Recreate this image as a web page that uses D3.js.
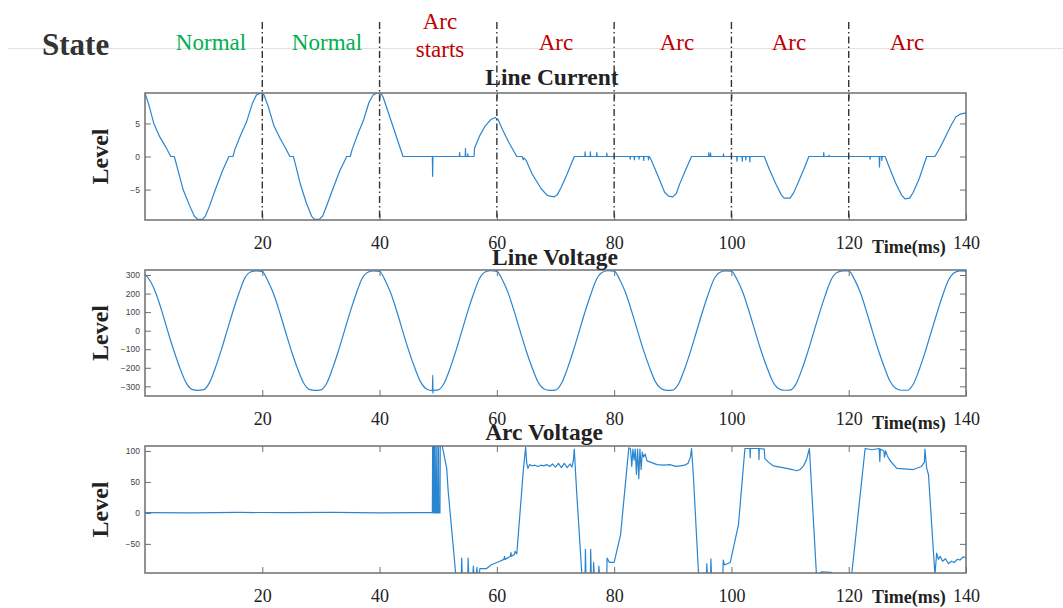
<!DOCTYPE html>
<html>
<head>
<meta charset="utf-8">
<script src="https://cdn.jsdelivr.net/npm/d3@7/dist/d3.min.js"></script>
<style>
  html, body { margin: 0; padding: 0; background: #fff; }
  svg { display: block; }
</style>
</head>
<body>
<svg id="chart" width="1063" height="608"></svg>
<script>
// ---------------- DATA ----------------
const stateLabels = [
  { text: ["Normal"], kind: "normal" },
  { text: ["Normal"], kind: "normal" },
  { text: ["Arc", "starts"], kind: "arc" },
  { text: ["Arc"], kind: "arc" },
  { text: ["Arc"], kind: "arc" },
  { text: ["Arc"], kind: "arc" },
  { text: ["Arc"], kind: "arc" }
];
const boundaryTimes = [20, 40, 60, 80, 100, 120];
const xTickValues = [20, 40, 60, 80, 100, 120, 140];
const currentTicks = [-5, 0, 5];
const voltageTicks = [-300, -200, -100, 0, 100, 200, 300];
const arcTicks = [-50, 0, 50, 100];

// Line current [time ms, level]
const lineCurrent = [
  [0,9.6],[0.6,8.0],[1.5,5.0],[2.5,3.0],[3.5,1.5],[4.4,0],[5.0,0],[5.3,-1.0],[6.5,-5.0],[7.5,-7.2],[8.4,-9.0],[9.0,-9.5],[9.8,-9.5],[10.3,-9.0],[11.0,-7.5],[12.0,-5.0],[13.2,-2.2],[14.3,0],[15.0,0],[15.3,1.0],[16.3,3.2],[17.3,5.2],[18.3,8.0],[19.0,9.3],[19.8,9.6],[20.3,9.3],
  [21.0,7.6],[22.0,4.6],[23.0,2.8],[24.0,1.2],[24.7,0],[25.3,0],[25.6,-1.0],[26.5,-4.2],[27.5,-7.0],[28.4,-9.0],[28.9,-9.5],[29.7,-9.5],[30.3,-9.0],[31.0,-7.4],[32.0,-5.0],[33.2,-2.2],[34.4,0],[35.0,0],[35.3,1.0],[36.3,3.4],[37.3,5.6],[38.2,8.2],[38.9,9.3],[39.6,9.6],[40.2,9.6],
  [40.6,9.0],[44.0,0],[49.0,0],[49.05,-3.0],[49.1,0],[53.6,0],[53.65,0.6],[53.7,0],[54.6,0],[54.65,1.2],[54.7,0],[55.0,0],[55.05,0.4],[55.1,0],[56.1,0],[56.2,1.3],[57.0,3.0],[58.0,4.6],[59.0,5.6],[59.7,5.9],[60.2,5.6],[61.0,4.0],[62.0,2.2],[63.4,0],[64.3,0],[64.5,-0.5],[64.6,-0.2],[65.0,-0.6],[66.0,-2.6],[67.5,-4.8],[68.5,-5.8],[69.0,-6.0],[69.8,-6.1],[70.3,-5.8],[71.0,-4.6],[72.0,-2.6],[73.2,0],
  [75.0,0],[75.05,0.7],[75.1,0],[75.9,0],[75.95,0.7],[76.0,0],[77.0,0],[77.05,0.6],[77.1,0],[78.7,0],[78.75,0.5],[78.8,0],[82.7,0],[82.75,-0.4],[82.8,0],[83.4,0],[83.45,-0.5],[83.5,0],[84.2,0],[84.25,-0.4],[84.3,0],[85.0,0],[85.05,-0.6],[85.1,0],[85.8,0],[85.85,-0.5],[85.9,0],[86.0,0],[86.3,-0.5],[87.5,-3.0],[88.6,-5.4],[89.3,-6.0],[90.0,-6.1],[90.6,-5.6],[91.2,-4.1],[92.2,-2.0],[93.2,0],
  [96.1,0],[96.15,0.6],[96.2,0],[96.4,0],[96.45,0.5],[96.5,0],[98.6,0],[98.65,0.4],[98.7,0],[100.9,0],[100.95,-0.7],[101.0,0],[101.8,0],[101.85,-0.7],[101.9,0],[102.4,0],[102.45,-0.5],[102.5,0],[103.1,0],[103.15,-0.8],[103.2,0],[105.6,0],[106.5,-2.0],[107.6,-4.2],[108.5,-5.8],[109.0,-6.3],[110.0,-6.3],[110.6,-5.5],[111.5,-3.7],[112.4,-1.8],[113.2,0],
  [115.7,0],[115.75,0.6],[115.8,0],[116.6,0],[116.65,0.2],[116.7,0],[123.6,0],[123.65,-0.4],[123.7,0],[125.2,0],[125.25,-1.6],[125.3,0],[125.6,0],[125.65,-0.6],[125.7,0],[126.2,0],[127.0,-1.8],[128.0,-4.0],[129.0,-5.8],[129.6,-6.4],[130.4,-6.3],[131.0,-5.4],[132.0,-3.4],[133.3,0],[134.7,0],[135.5,1.2],[136.5,3.0],[137.5,4.8],[138.3,6.0],[139.0,6.4],[140,6.6]
];

// Line voltage, one value per ms from 0 to 140
const voltageValues = [
  305,262,190,92,-15,-115,-205,-280,-316,-322,-318,-280,-200,-105,0,105,200,282,316,322,
  318,265,192,95,-10,-112,-203,-279,-316,-322,-319,-282,-202,-107,-2,103,198,280,315,322,
  319,268,195,98,-8,-110,-200,-276,-314,-323,-319,-283,-205,-110,-5,100,196,279,316,323,
  320,270,197,100,-5,-108,-198,-275,-313,-322,-320,-285,-207,-112,-8,98,194,277,315,323,
  321,272,200,103,-2,-105,-195,-273,-312,-322,-320,-286,-208,-114,-10,95,192,276,314,322,
  321,273,202,105,0,-103,-193,-271,-311,-321,-320,-288,-210,-116,-12,93,190,274,313,322,
  322,275,204,107,2,-100,-190,-270,-310,-321,-321,-289,-212,-118,-14,90,188,272,312,322,
  321
];
// Short spike on the line voltage at arc start [time ms, level]
const voltageGlitches = [
  [49.07,-240],[49.1,-338],[49.13,-322]
];

// Arc voltage [time ms, level]
const arcVoltage = [
  [0,0.5],[8,0.2],[16,0.8],[24,0.3],[32,0.7],[40,0.2],[46,0.6],[49.0,0.5],
  [49.05,112],[49.12,112],[49.17,0],[49.25,0],[49.3,112],[49.4,112],[49.45,0],[49.6,0],[49.65,112],[49.75,0],[49.9,0],[49.95,112],[50.05,112],[50.1,0],[50.3,0],[50.35,112],[50.6,112],
  [51.45,72],[51.7,35],[53.0,-100],[53.95,-100],[54.0,-73],[54.1,-100],[55.05,-100],[55.1,-73],[55.2,-100],[55.9,-100],[56.0,-86],[56.1,-100],[56.5,-100],[56.6,-88],[56.7,-100],[57.0,-100],[57.1,-90],[58.2,-90],[59.0,-84],[60.5,-78],[61.2,-75],[61.3,-70],[61.4,-75],[62.3,-70],[62.4,-64],[62.5,-70],[63.0,-67],[63.1,-62],[63.4,-66],
  [64.5,67],[64.9,106],[65.1,80],[65.3,72],[65.6,78],[66.0,76],[66.5,77],[67.0,75],[67.5,77],[68.0,76],[68.5,78],[69.0,75],[69.5,79],[70.0,74],[70.5,80],[71.0,73],[71.5,80],[72.0,73],[72.5,79],[72.8,74],[73.05,85],[73.2,103],[73.6,35],[74.5,-100],
  [75.05,-100],[75.1,-59],[75.2,-100],[75.95,-100],[76.0,-59],[76.1,-100],[76.45,-100],[76.5,-80],[76.6,-100],[77.35,-100],[77.4,-86],[77.5,-100],[78.75,-100],[78.8,-73],[79.2,-80],[80.0,-80],[81.1,-35],[82.5,105],
  [82.8,103],[83.0,75],[83.2,103],[83.4,85],[83.6,103],[83.8,62],[84.0,103],[84.2,55],[84.4,103],[84.6,70],[84.8,98],[85.0,90],[85.3,95],[85.6,84],[86.2,82],[87.3,78],[88.5,77],[89.5,78],[90.5,75],[91.3,76],[92.0,77],[92.6,80],[93.0,90],[93.2,104],[93.5,62],[94.4,-100],
  [95.75,-100],[95.8,-82],[95.9,-100],[96.45,-100],[96.5,-74],[96.6,-100],[98.55,-100],[98.6,-76],[98.8,-84],[99.8,-80],[101.2,-19],[102.3,104],[103.15,104],[103.2,89],[103.25,104],[104.65,104],[104.7,86],[104.75,104],[105.6,103],[105.7,88],[106.3,82],[107.1,76],[108.3,74],[109.4,72],[110.4,70],[111.1,68],[111.7,70],[112.3,76],[112.8,86],[113.3,104],[113.7,35],[114.5,-100],
  [115.2,-100],[115.3,-95],[117.0,-96],[117.2,-100],[120.5,-100],
  [122.8,104],[124.0,102],[125.2,104],[125.3,83],[125.4,103],[126.0,100],[126.1,90],[126.3,100],[126.6,92],[127.0,85],[128.2,72],[129.5,71],[131.0,70],[132.4,75],[132.9,82],[133.0,103],[133.3,72],[133.6,62],[134.7,-100],
  [135.0,-65],[135.3,-75],[135.6,-70],[136.0,-78],[136.5,-74],[137.0,-82],[137.5,-78],[138.0,-80],[138.5,-75],[139.0,-76],[139.5,-71],[140,-72]
];

// ---------------- DRAWING ----------------
const serif = "'Liberation Serif','Times New Roman',serif";
const sans = "'Liberation Sans',Arial,sans-serif";
const lineColor = "#2a85d0";
const boxColor = "#6f6f6f";

const svg = d3.select("#chart");
svg.append("rect").attr("width", 1063).attr("height", 608).attr("fill", "#fff");

const x = d3.scaleLinear().domain([0, 140]).range([145, 966]);

// header separator line
svg.append("line").attr("x1", 8).attr("x2", 1063).attr("y1", 48.5).attr("y2", 48.5)
  .attr("stroke", "#e2e2e2").attr("stroke-width", 1);

svg.append("text").attr("x", 42).attr("y", 55)
  .attr("font-family", serif).attr("font-weight", "bold").attr("font-size", 31)
  .attr("fill", "#333").text("State");

const stateCenters = [211, 327, 440, 556, 677, 789, 907];
stateLabels.forEach((d, i) => {
  const color = d.kind === "normal" ? "#00b050" : "#c00000";
  const baselines = d.text.length === 2 ? [28.5, 57] : [49.5];
  d.text.forEach((s, j) => {
    svg.append("text").attr("x", stateCenters[i]).attr("y", baselines[j])
      .attr("text-anchor", "middle").attr("font-family", serif).attr("font-size", 23)
      .attr("fill", color).text(s);
  });
});

const panels = [
  { title: "Line Current", titleX: 552, titleY: 85, top: 93, bottom: 220, domain: [-9.6, 9.6], ticks: currentTicks,
    data: lineCurrent, curve: d3.curveLinear, xLabelDy: 33 },
  { title: "Line Voltage", titleX: 555, titleY: 265, top: 270, bottom: 396, domain: [-352, 327], ticks: voltageTicks,
    data: voltageValues.map((v, i) => [i, v]).concat(voltageGlitches).sort((a, b) => a[0] - b[0]), curve: d3.curveMonotoneX, xLabelDy: 33 },
  { title: "Arc Voltage", titleX: 544, titleY: 440, top: 446, bottom: 573, domain: [-97, 108], ticks: arcTicks,
    data: arcVoltage, curve: d3.curveLinear, xLabelDy: 30 }
];

panels.forEach((p, idx) => {
  const y = d3.scaleLinear().domain(p.domain).range([p.bottom, p.top]);
  const g = svg.append("g");

  const clipId = "clip" + idx;
  svg.append("clipPath").attr("id", clipId).append("rect")
    .attr("x", 145).attr("y", p.top).attr("width", 821).attr("height", p.bottom - p.top);

  const left = g.append("g").attr("transform", "translate(145,0)")
    .call(d3.axisLeft(y).tickValues(p.ticks).tickSizeInner(-6).tickSizeOuter(0).tickPadding(5));
  left.select(".domain").remove();
  left.selectAll("text").attr("font-family", sans).attr("font-size", 8.5).attr("fill", "#444");
  left.selectAll("line").attr("stroke", boxColor);

  const right = g.append("g").attr("transform", "translate(966,0)")
    .call(d3.axisRight(y).tickValues(p.ticks).tickSizeInner(-6).tickSizeOuter(0).tickFormat(""));
  right.select(".domain").remove();
  right.selectAll("line").attr("stroke", boxColor);

  const bottom = g.append("g").attr("transform", `translate(0,${p.bottom})`)
    .call(d3.axisBottom(x).tickValues(xTickValues).tickSizeInner(-6).tickSizeOuter(0).tickPadding(16));
  bottom.select(".domain").remove();
  bottom.selectAll("line").attr("stroke", boxColor);
  bottom.selectAll("text").attr("font-family", serif).attr("font-size", 18).attr("fill", "#222")
    .attr("dy", "0.71em").attr("y", 16.5);

  const top = g.append("g").attr("transform", `translate(0,${p.top})`)
    .call(d3.axisTop(x).tickValues(xTickValues.slice(0, -1)).tickSizeInner(-6).tickSizeOuter(0).tickFormat(""));
  top.select(".domain").remove();
  top.selectAll("line").attr("stroke", boxColor);

  const line = d3.line().x(d => x(d[0])).y(d => y(d[1])).curve(p.curve);
  g.append("path").datum(p.data).attr("d", line)
    .attr("clip-path", `url(#${clipId})`)
    .attr("fill", "none").attr("stroke", lineColor).attr("stroke-width", 1.2)
    .attr("stroke-linejoin", "round");

  g.append("rect").attr("x", 145).attr("y", p.top).attr("width", 821).attr("height", p.bottom - p.top)
    .attr("fill", "none").attr("stroke", boxColor).attr("stroke-width", 1.5);

  g.append("text").attr("x", p.titleX).attr("y", p.titleY).attr("text-anchor", "middle")
    .attr("font-family", serif).attr("font-weight", "bold").attr("font-size", 23.5)
    .attr("fill", "#222").text(p.title);

  const cy = (p.top + p.bottom) / 2;
  g.append("text").attr("transform", `translate(108,${cy}) rotate(-90)`)
    .attr("text-anchor", "middle").attr("font-family", serif).attr("font-weight", "bold")
    .attr("font-size", 24).attr("fill", "#222").text("Level");

  g.append("text").attr("x", 872).attr("y", p.bottom + p.xLabelDy)
    .attr("font-family", serif).attr("font-weight", "bold").attr("font-size", 18)
    .attr("fill", "#222").text("Time(ms)");
});

// state boundary dash-dot lines
svg.append("g").selectAll("line").data(boundaryTimes).join("line")
  .attr("x1", d => x(d)).attr("x2", d => x(d))
  .attr("y1", 22).attr("y2", 220)
  .attr("stroke", "#333").attr("stroke-width", 1.4)
  .attr("stroke-dasharray", "7,3,1.5,3");
</script>
</body>
</html>
